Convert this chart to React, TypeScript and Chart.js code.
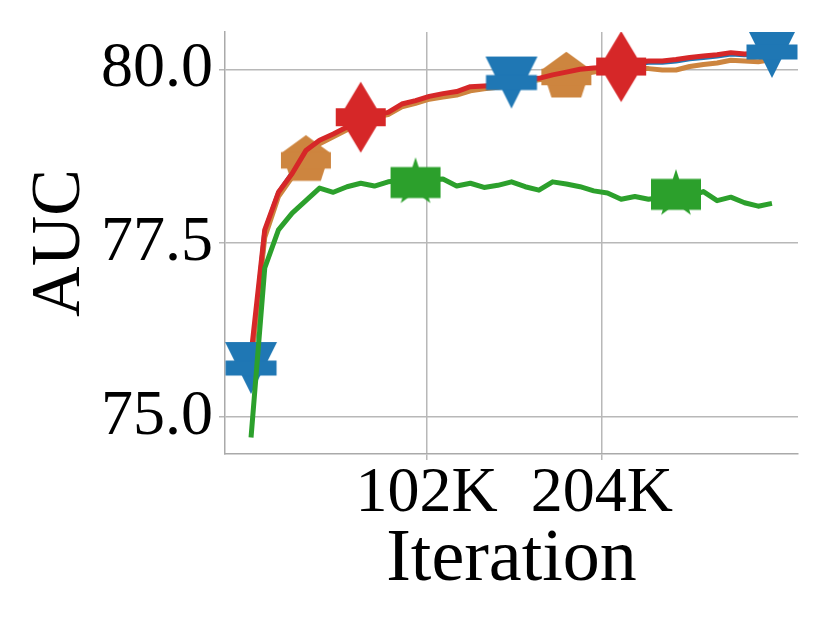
import { useEffect, useRef } from "react";
import { Chart, registerables } from "chart.js";

Chart.register(...registerables);

// ---- data ----
const iterations = [
  0, 8000, 16000, 24000, 32000, 40000, 48000, 56000, 64000, 72000,
  80000, 88000, 96000, 104000, 112000, 120000, 128000, 136000, 144000, 152000,
  160000, 168000, 176000, 184000, 192000, 200000, 208000, 216000, 224000, 232000,
  240000, 248000, 256000, 264000, 272000, 280000, 288000, 296000, 304000,
];

const blueAUC = [
  75.70, 77.66, 78.22, 78.50, 78.78, 78.95, 79.05, 79.15, 79.29, 79.32,
  79.36, 79.47, 79.53, 79.58, 79.62, 79.66, 79.72, 79.74, 79.76, 79.81,
  79.83, 79.86, 79.90, 79.93, 79.97, 80.00, 80.02, 80.03, 80.08, 80.10,
  80.10, 80.12, 80.15, 80.17, 80.19, 80.22, 80.21, 80.22, 80.25,
];

const orangeAUC = [
  75.75, 77.58, 78.17, 78.45, 78.69, 78.93, 79.03, 79.13, 79.27, 79.31,
  79.35, 79.46, 79.51, 79.57, 79.60, 79.63, 79.69, 79.72, 79.74, 79.78,
  79.82, 79.85, 79.87, 79.89, 79.93, 79.96, 79.99, 80.01, 80.01, 80.01,
  79.99, 79.99, 80.04, 80.07, 80.09, 80.13, 80.12, 80.11, 80.14,
];

const redAUC = [
  75.89, 77.69, 78.23, 78.50, 78.83, 78.98, 79.07, 79.17, 79.31, 79.34,
  79.38, 79.50, 79.55, 79.61, 79.65, 79.68, 79.75, 79.76, 79.77, 79.80,
  79.85, 79.87, 79.92, 79.96, 80.00, 80.02, 80.03, 80.04, 80.10, 80.12,
  80.12, 80.14, 80.17, 80.19, 80.21, 80.24, 80.22, 80.23, 80.23,
];

const greenAUC = [
  74.70, 77.14, 77.69, 77.93, 78.11, 78.29, 78.23, 78.31, 78.36, 78.32,
  78.38, 78.40, 78.37, 78.41, 78.42, 78.32, 78.36, 78.30, 78.33, 78.38,
  78.31, 78.26, 78.38, 78.35, 78.31, 78.25, 78.22, 78.13, 78.17, 78.13,
  78.16, 78.20, 78.17, 78.24, 78.11, 78.16, 78.08, 78.03, 78.07,
];

const blueMarkIdx = [0, 19, 38];
const orangeMarkIdx = [4, 23];
const redMarkIdx = [8, 27];
const greenMarkIdx = [12, 31];

const yTickValues = [75, 77.5, 80];
const yTickLabels = ["75.0", "77.5", "80.0"];
const xTickValues = [102400, 204800];
const xTickLabels = ["102K", "204K"];

const BLUE = "#1f77b4";
const ORANGE = "#cd853f";
const RED = "#d62728";
const GREEN = "#2ca02c";

const FONT = "'Liberation Serif', 'Times New Roman', serif";

function makeMarker(kind: string, color: string): HTMLCanvasElement {
  const c = document.createElement("canvas");
  const W = 56;
  const H = 76;
  c.width = W;
  c.height = H;
  const g = c.getContext("2d")!;
  g.fillStyle = color;
  const cx = W / 2;
  const cy = H / 2;
  g.beginPath();
  let rw = 50;
  let rh = 16;
  if (kind === "tri") {
    g.moveTo(cx - 26, cy - 26);
    g.lineTo(cx + 26, cy - 26);
    g.lineTo(cx, cy + 26);
    g.closePath();
    rw = 51;
    rh = 15;
  } else if (kind === "pent") {
    const R = 25.3;
    for (let k = 0; k < 5; k++) {
      const a = -Math.PI / 2 + (k * 2 * Math.PI) / 5;
      const px = cx + R * Math.cos(a);
      const py = cy + R * Math.sin(a);
      if (k === 0) g.moveTo(px, py);
      else g.lineTo(px, py);
    }
    g.closePath();
    rw = 50;
    rh = 16.5;
  } else if (kind === "diamond") {
    g.moveTo(cx, cy - 35.5);
    g.lineTo(cx + 21.3, cy);
    g.lineTo(cx, cy + 35.5);
    g.lineTo(cx - 21.3, cy);
    g.closePath();
    rw = 50;
    rh = 18;
  } else if (kind === "star") {
    const R = 25.3;
    const r = R * 0.381966;
    for (let k = 0; k < 10; k++) {
      const a = -Math.PI / 2 + (k * Math.PI) / 5;
      const rad = k % 2 === 0 ? R : r;
      const px = cx + rad * Math.cos(a);
      const py = cy + rad * Math.sin(a);
      if (k === 0) g.moveTo(px, py);
      else g.lineTo(px, py);
    }
    g.closePath();
    rw = 50;
    rh = 31;
  }
  g.fill();
  g.fillRect(cx - rw / 2, cy - rh / 2, rw, rh);
  return c;
}

function toPoints(ys: number[]) {
  return ys.map((y, i) => ({ x: iterations[i], y }));
}

export default function App() {
  const ref = useRef<HTMLCanvasElement | null>(null);

  useEffect(() => {
    if (!ref.current) return;
    const mBlue = makeMarker("tri", BLUE);
    const mOrange = makeMarker("pent", ORANGE);
    const mRed = makeMarker("diamond", RED);
    const mGreen = makeMarker("star", GREEN);

    const lineDs = (label: string, ys: number[], color: string, order: number) => ({
      label,
      data: toPoints(ys),
      borderColor: color,
      backgroundColor: color,
      borderWidth: 5,
      borderJoinStyle: "round",
      borderCapStyle: "butt",
      pointRadius: 0,
      tension: 0,
      clip: 0,
      order,
    });
    const markDs = (label: string, ys: number[], idx: number[], img: HTMLCanvasElement, order: number) => ({
      label,
      data: toPoints(ys),
      showLine: false,
      borderWidth: 0,
      pointStyle: img,
      pointRadius: (ctx: any) => (idx.includes(ctx.dataIndex) ? 10 : 0),
      pointHoverRadius: 0,
      clip: 0,
      order,
    });

    const chart = new Chart(ref.current, {
      type: "line",
      data: {
        datasets: [
          lineDs("blue", blueAUC, BLUE, 8),
          lineDs("orange", orangeAUC, ORANGE, 7),
          markDs("orange-m", orangeAUC, orangeMarkIdx, mOrange, 6),
          lineDs("red", redAUC, RED, 5),
          markDs("red-m", redAUC, redMarkIdx, mRed, 4),
          markDs("blue-m", blueAUC, blueMarkIdx, mBlue, 3),
          lineDs("green", greenAUC, GREEN, 2),
          markDs("green-m", greenAUC, greenMarkIdx, mGreen, 1),
        ] as any,
      },
      options: {
        animation: false,
        responsive: true,
        maintainAspectRatio: false,
        events: [],
        layout: { padding: { left: 0, right: 32, top: 32, bottom: 0 } },
        plugins: {
          legend: { display: false },
          tooltip: { enabled: false },
          title: { display: false },
        },
        scales: {
          x: {
            type: "linear",
            min: -15200,
            max: 319200,
            afterBuildTicks: (s: any) => {
              s.ticks = xTickValues.map((v) => ({ value: v }));
            },
            afterFit: (s: any) => {
              s.height = 179;
            },
            ticks: {
              autoSkip: false,
              maxRotation: 0,
              minRotation: 0,
              padding: 2.5,
              color: "#000",
              font: { family: FONT, size: 64, lineHeight: 1 },
              callback: (v: any) => {
                const i = xTickValues.indexOf(Number(v));
                return i >= 0 ? xTickLabels[i] : "";
              },
            },
            grid: { color: "#b8b8b8", lineWidth: 1.5, tickLength: 6, drawTicks: true },
            border: { display: true, color: "#aaaaaa", width: 1.5 },
            title: {
              display: true,
              text: "Iteration",
              color: "#000",
              font: { family: FONT, size: 74 },
              padding: { top: 0, bottom: 28 },
            },
          },
          y: {
            type: "linear",
            min: 74.463,
            max: 80.537,
            afterBuildTicks: (s: any) => {
              s.ticks = yTickValues.map((v) => ({ value: v }));
            },
            afterFit: (s: any) => {
              s.width = 225;
              s.paddingTop = 0;
              s.paddingBottom = 0;
            },
            ticks: {
              padding: 6,
              color: "#000",
              font: { family: FONT, size: 64, lineHeight: 0.75 },
              callback: (v: any) => {
                const i = yTickValues.indexOf(Number(v));
                return i >= 0 ? yTickLabels[i] : "";
              },
            },
            grid: { color: "#b8b8b8", lineWidth: 1.5, tickLength: 6, drawTicks: true },
            border: { display: true, color: "#aaaaaa", width: 1.5 },
            title: {
              display: true,
              text: "AUC",
              color: "#000",
              font: { family: FONT, size: 70 },
              padding: { top: 19, bottom: 0 },
            },
          },
        },
      } as any,
    });
    return () => chart.destroy();
  }, []);

  return (
    <div
      style={{
        position: "fixed",
        left: 0,
        top: 0,
        width: 830,
        height: 633,
        background: "#fff",
      }}
    >
      <canvas ref={ref} />
    </div>
  );
}
